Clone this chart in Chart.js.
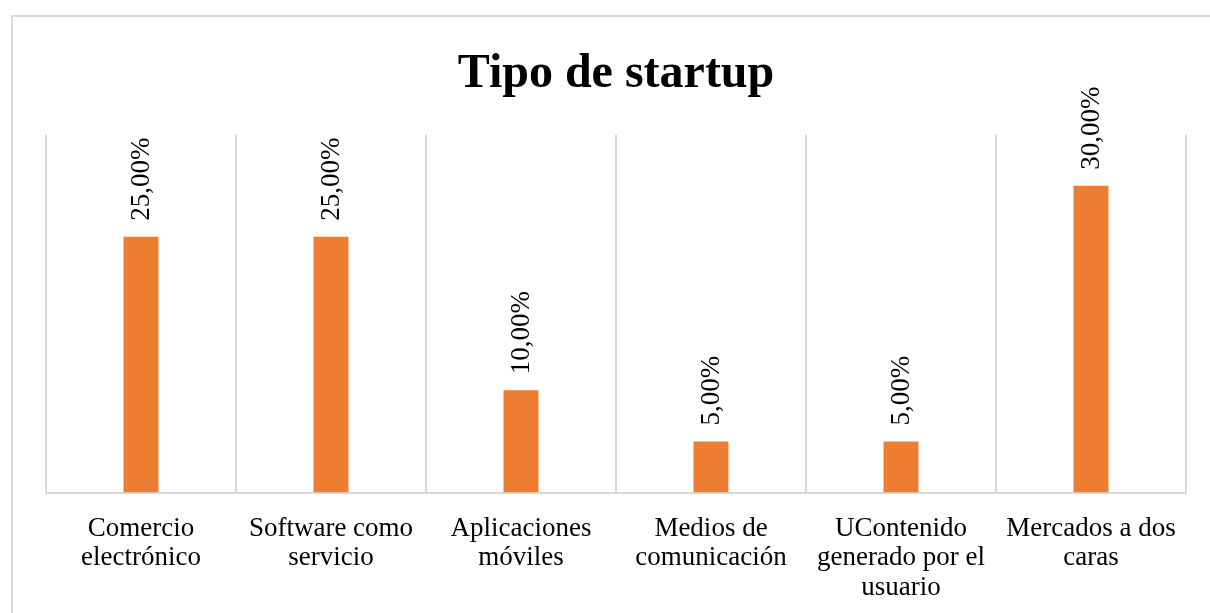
<!DOCTYPE html>
<html>
<head>
<meta charset="utf-8">
<script src="https://cdn.jsdelivr.net/npm/chart.js@4/dist/chart.umd.min.js"></script>
<style>
html,body{margin:0;padding:0;background:#fff;overflow:hidden;}
#frame{position:absolute;left:11px;top:15px;width:1300px;height:700px;border:2px solid #d9d9d9;box-sizing:border-box;}
#wrap{position:absolute;left:0;top:0;width:1210px;height:613px;}
</style>
</head>
<body>
<div id="frame"></div>
<div id="wrap"><canvas id="c" width="1210" height="613"></canvas></div>
<script>
const categories = [
  ["Comercio", "electrónico"],
  ["Software como", "servicio"],
  ["Aplicaciones", "móviles"],
  ["Medios de", "comunicación"],
  ["UContenido", "generado por el", "usuario"],
  ["Mercados a dos", "caras"]
];
const values = [25, 25, 10, 5, 5, 30];
const valueLabels = ["25,00%", "25,00%", "10,00%", "5,00%", "5,00%", "30,00%"];

const serif = "'Liberation Serif', 'Times New Roman', serif";

const labelPlugin = {
  id: 'rotLabels',
  afterDatasetsDraw(chart) {
    const ctx = chart.ctx;
    const meta = chart.getDatasetMeta(0);
    ctx.save();
    ctx.fillStyle = '#000';
    ctx.font = '27px ' + serif;
    ctx.textAlign = 'left';
    ctx.textBaseline = 'middle';
    meta.data.forEach((bar, i) => {
      ctx.save();
      ctx.translate(bar.x, bar.y - 16);
      ctx.rotate(-Math.PI / 2);
      ctx.fillText(valueLabels[i], 0, 1);
      ctx.restore();
    });
    ctx.restore();
  }
};

new Chart(document.getElementById('c'), {
  type: 'bar',
  data: {
    labels: categories,
    datasets: [{
      data: values,
      backgroundColor: '#ED7D31',
      barPercentage: 0.184,
      categoryPercentage: 1.0
    }]
  },
  options: {
    responsive: false,
    animation: false,
    layout: { padding: { left: 46, right: 24, top: 0, bottom: -11 } },
    plugins: {
      legend: { display: false },
      tooltip: { enabled: false },
      title: {
        display: true,
        text: 'Tipo de startup',
        color: '#000',
        font: { family: serif, size: 48, weight: 'bold', lineHeight: 1.2 },
        padding: { top: 46, bottom: 31 }
      }
    },
    scales: {
      x: {
        grid: { display: true, color: '#d9d9d9', lineWidth: 2, drawTicks: false, offset: true },
        border: { display: true, color: '#d9d9d9', width: 2 },
        ticks: {
          color: '#000',
          font: { family: serif, size: 27, lineHeight: 1.08 },
          padding: 22,
          maxRotation: 0,
          autoSkip: false
        }
      },
      y: {
        display: false,
        min: 0,
        max: 35
      }
    }
  },
  plugins: [labelPlugin]
});
</script>
</body>
</html>
